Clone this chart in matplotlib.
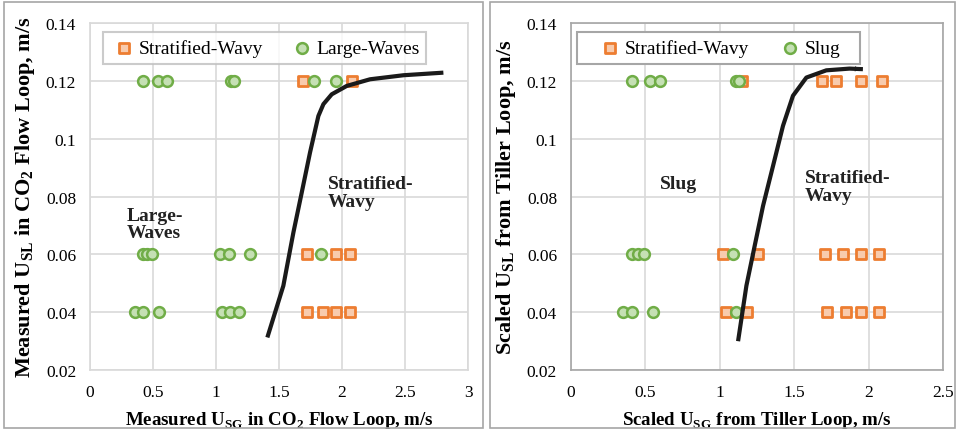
import matplotlib.pyplot as plt
from matplotlib.patches import Rectangle

plt.rcParams['font.family'] = ['Liberation Serif', 'DejaVu Serif']
plt.rcParams['mathtext.fontset'] = 'custom'
plt.rcParams['mathtext.rm'] = 'Liberation Serif'
plt.rcParams['mathtext.bf'] = 'Liberation Serif:bold'

# Left panel: CO2 flow loop
sw_left_x = [1.69, 2.08, 1.72, 1.95, 2.06, 1.72, 1.85, 1.95, 2.06]
sw_left_y = [0.12, 0.12, 0.06, 0.06, 0.06, 0.04, 0.04, 0.04, 0.04]
lw_left_x = [0.42, 0.54, 0.61, 1.12, 1.14, 1.78, 1.95,
             0.42, 0.45, 0.49, 1.03, 1.10, 1.27, 1.83,
             0.36, 0.42, 0.55, 1.05, 1.11, 1.18]
lw_left_y = [0.12] * 7 + [0.06] * 7 + [0.04] * 6
curve_left_x = [1.407, 1.534, 1.614, 1.680, 1.746, 1.812, 1.852, 1.918,
                2.037, 2.222, 2.487, 2.804]
curve_left_y = [0.0312, 0.0491, 0.0676, 0.0814, 0.0953, 0.1079, 0.1120, 0.1154,
                0.1183, 0.1206, 0.1220, 0.1229]

# Right panel: scaled Tiller loop
sw_right_x = [1.15, 1.69, 1.78, 1.95, 2.09,
              1.02, 1.26, 1.71, 1.83, 1.95, 2.07,
              1.04, 1.18, 1.72, 1.85, 1.95, 2.07]
sw_right_y = [0.12] * 5 + [0.06] * 6 + [0.04] * 6
slug_right_x = [0.41, 0.53, 0.60, 1.11, 1.13,
                0.41, 0.45, 0.49, 1.09,
                0.35, 0.41, 0.55, 1.11]
slug_right_y = [0.12] * 5 + [0.06] * 4 + [0.04] * 4
curve_right_x = [1.123, 1.179, 1.235, 1.291, 1.358, 1.425, 1.492, 1.582,
                 1.716, 1.872, 1.962]
curve_right_y = [0.0299, 0.0491, 0.0630, 0.0768, 0.0906, 0.1045, 0.1149, 0.1212,
                 0.1237, 0.1243, 0.1241]

orange = '#ed7d31'
green = '#70ad47'

fig = plt.figure(figsize=(9.58, 4.31), dpi=100)

# panel borders
for x0, w in [(0.004, 0.500), (0.512, 0.485)]:
    fig.patches.append(Rectangle((x0, 0.004), w, 0.99, transform=fig.transFigure,
                                 fill=False, edgecolor='#a6a6a6', linewidth=1.2))

ax1 = fig.add_axes([0.094, 0.1397, 0.3946, 0.804])
ax2 = fig.add_axes([0.596, 0.1397, 0.3883, 0.804])


def style(ax, xmax, xlabel, ylabel, spine_color):
    ax.set_xlim(0, xmax)
    ax.set_ylim(0.02, 0.14)
    ax.set_xticks([i * 0.5 for i in range(int(xmax / 0.5) + 1)])
    ax.set_yticks([0.02, 0.04, 0.06, 0.08, 0.1, 0.12, 0.14])
    ax.set_xticklabels(['0', '0.5', '1', '1.5', '2', '2.5', '3'][:len(ax.get_xticks())])
    ax.set_yticklabels(['0.02', '0.04', '0.06', '0.08', '0.1', '0.12', '0.14'])
    ax.grid(True, color='#d9d9d9', linewidth=1.2)
    ax.set_axisbelow(True)
    ax.tick_params(length=0, labelsize=12.5, pad=10)
    for s in ax.spines.values():
        s.set_color(spine_color)
        s.set_linewidth(1.2)
    ax.set_xlabel(xlabel, fontsize=13.6, fontweight='bold', labelpad=7)
    ax.set_ylabel(ylabel, fontsize=16, fontweight='bold', labelpad=6)


sq = dict(marker='s', s=42, facecolor='#f8cbad', edgecolor=orange, linewidths=2, zorder=3)
cir = dict(marker='o', s=60, facecolor='#c5e0b4', edgecolor=green, linewidths=1.8, zorder=3)
note = dict(fontsize=14, fontweight='bold', linespacing=1.05, ha='left', va='center',
            color='#222222')

ax1.scatter(sw_left_x, sw_left_y, label='Stratified-Wavy', **sq)
ax1.scatter(lw_left_x, lw_left_y, label='Large-Waves', **cir)
ax1.plot(curve_left_x, curve_left_y, color='#1a1a1a', linewidth=3, zorder=4,
         solid_capstyle='butt')
style(ax1, 3, 'Measured U$_\\mathbf{SG}$ in CO$_\\mathbf{2}$ Flow Loop, m/s',
      'Measured U$_\\mathbf{SL}$ in CO$_\\mathbf{2}$ Flow Loop, m/s', '#d9d9d9')
leg1 = ax1.legend(loc='upper left', bbox_to_anchor=(0.025, 0.985), ncol=2, fontsize=14,
                  fancybox=False, edgecolor='#bfbfbf', handletextpad=0.05, columnspacing=1.3,
                  borderpad=0.35, handlelength=1.4, borderaxespad=0.2)
leg1.get_frame().set_linewidth(1.5)
ax1.text(0.29, 0.0705, 'Large-\nWaves', **note)
ax1.text(1.89, 0.0815, 'Stratified-\nWavy', **note)

ax2.scatter(sw_right_x, sw_right_y, label='Stratified-Wavy', **sq)
ax2.scatter(slug_right_x, slug_right_y, label='Slug', **cir)
ax2.plot(curve_right_x, curve_right_y, color='#1a1a1a', linewidth=3, zorder=4,
         solid_capstyle='butt')
ax2.annotate('', xy=(curve_right_x[-1], curve_right_y[-1]),
             xytext=(curve_right_x[-2], curve_right_y[-2]),
             arrowprops=dict(arrowstyle='-|>', color='#1a1a1a', lw=0.1,
                             mutation_scale=9), zorder=4)
style(ax2, 2.5, 'Scaled U$_\\mathbf{SG}$ from Tiller Loop, m/s',
      'Scaled U$_\\mathbf{SL}$ from Tiller Loop, m/s', '#a6a6a6')
# legend frame drawn separately (wider than its content, as in the original)
ax2.add_patch(Rectangle((0.016, 0.8825), 0.761, 0.0925, transform=ax2.transAxes,
                        facecolor='white', edgecolor='#a6a6a6', linewidth=1.5, zorder=5))
leg2 = ax2.legend(loc='center', bbox_to_anchor=(0.3965, 0.929), ncol=2, fontsize=14,
                  frameon=False, handletextpad=0.05, columnspacing=1.37,
                  borderpad=0.0, handlelength=1.4, borderaxespad=0.0)
leg2.set_zorder(6)
ax2.text(0.60, 0.0845, 'Slug', **note)
ax2.text(1.57, 0.0835, 'Stratified-\nWavy', **note)

fig.savefig('out.png', dpi=100)
